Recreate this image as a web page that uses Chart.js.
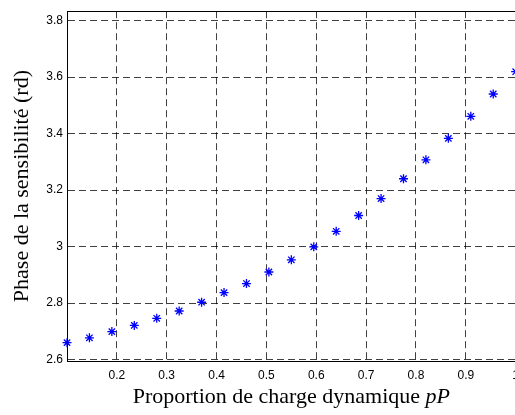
<!DOCTYPE html>
<html>
  <head>
    <title>Phase de la sensibilité</title>
    <script src="https://cdn.jsdelivr.net/npm/chart.js@4.4.1/dist/chart.umd.min.js"></script>
    <style>
      body { margin: 0; overflow: hidden; background: #fff; }
      #canvas { position: absolute; left: 0; top: 0; }
    </style>
  </head>

  <body>
    <canvas id="canvas" width="526" height="415"></canvas>
    <script>
      // proportion of dynamic load (x) and phase of sensitivity in rd (y)
      var proportion = [0.1, 0.145, 0.19, 0.235, 0.28, 0.325, 0.37, 0.415, 0.46, 0.505, 0.55,
        0.595, 0.64, 0.685, 0.73, 0.775, 0.82, 0.865, 0.91, 0.955, 1.0];
      var phase = [2.660, 2.677, 2.699, 2.721, 2.746, 2.772, 2.803, 2.837, 2.869, 2.910, 2.953,
        2.999, 3.054, 3.110, 3.170, 3.240, 3.307, 3.383, 3.461, 3.540, 3.619];
      var xTicks = [0.1, 0.2, 0.3, 0.4, 0.5, 0.6, 0.7, 0.8, 0.9, 1];
      var yTicks = [2.6, 2.8, 3, 3.2, 3.4, 3.6, 3.8];
      var xTitle = 'Proportion de charge dynamique ';
      var xTitleItalic = 'pP';
      var yTitle = 'Phase de la sensibilité (rd)';

      var points = proportion.map(function (x, i) { return { x: x, y: phase[i] }; });

      var titles = {
        id: 'titles',
        afterDraw: function (chart) {
          var ctx = chart.ctx;
          var a = chart.chartArea;
          ctx.save();
          // box around the axes
          ctx.strokeStyle = '#000';
          ctx.lineWidth = 1;
          ctx.strokeRect(Math.round(a.left) + 0.5, Math.round(a.top) + 0.5,
            Math.round(a.right - a.left), Math.round(a.bottom - a.top));

          ctx.fillStyle = '#000';
          ctx.textBaseline = 'alphabetic';
          var f1 = '22px "Liberation Serif", "Times New Roman", serif';
          var f2 = 'italic 22px "Liberation Serif", "Times New Roman", serif';
          ctx.font = f1;
          var w1 = ctx.measureText(xTitle).width;
          ctx.font = f2;
          var w2 = ctx.measureText(xTitleItalic).width;
          var cx = (a.left + a.right) / 2;
          var x0 = cx - (w1 + w2) / 2;
          ctx.textAlign = 'left';
          ctx.font = f1;
          ctx.fillText(xTitle, x0, 403);
          ctx.font = f2;
          ctx.fillText(xTitleItalic, x0 + w1, 403);

          ctx.translate(28, (a.top + a.bottom) / 2);
          ctx.rotate(-Math.PI / 2);
          ctx.textAlign = 'center';
          ctx.font = f1;
          ctx.fillText(yTitle, 0, 0);
          ctx.restore();
        }
      };

      var fmt = function (v) { return String(+v.toFixed(2)); };

      window.onload = function () {
        var ctx = document.getElementById('canvas').getContext('2d');
        window.myChart = new Chart(ctx, {
          type: 'scatter',
          data: {
            datasets: [{
              data: points,
              pointStyle: 'star',
              pointRadius: 4.5,
              borderColor: '#0000ff',
              backgroundColor: '#0000ff',
              borderWidth: 1.3,
              clip: false
            }]
          },
          options: {
            responsive: false,
            animation: false,
            devicePixelRatio: 1,
            layout: { padding: { top: 6, right: 6, left: 0, bottom: 0 } },
            plugins: { legend: { display: false }, tooltip: { enabled: false } },
            scales: {
              x: {
                type: 'linear',
                min: 0.1,
                max: 1,
                afterBuildTicks: function (s) { s.ticks = xTicks.map(function (v) { return { value: v }; }); },
                afterFit: function (s) { s.height = 54; },
                grid: { color: 'rgba(0,0,0,0.75)', drawTicks: false },
                border: { display: true, color: '#000', dash: [7, 4] },
                ticks: {
                  padding: 7,
                  color: '#000',
                  maxRotation: 0,
                  font: { family: '"Liberation Sans", Arial, sans-serif', size: 12 },
                  callback: function (v) { return v === 0.1 ? '' : fmt(v); }
                }
              },
              y: {
                type: 'linear',
                min: 2.595,
                max: 3.833,
                afterBuildTicks: function (s) { s.ticks = yTicks.map(function (v) { return { value: v }; }); },
                afterFit: function (s) { s.width = 67; },
                grid: { color: 'rgba(0,0,0,0.75)', drawTicks: false },
                border: { display: true, color: '#000', dash: [7, 4] },
                ticks: {
                  padding: 4,
                  color: '#000',
                  font: { family: '"Liberation Sans", Arial, sans-serif', size: 12 },
                  callback: function (v) { return fmt(v); }
                }
              }
            }
          },
          plugins: [titles]
        });
      };
    </script>
  </body>
</html>
